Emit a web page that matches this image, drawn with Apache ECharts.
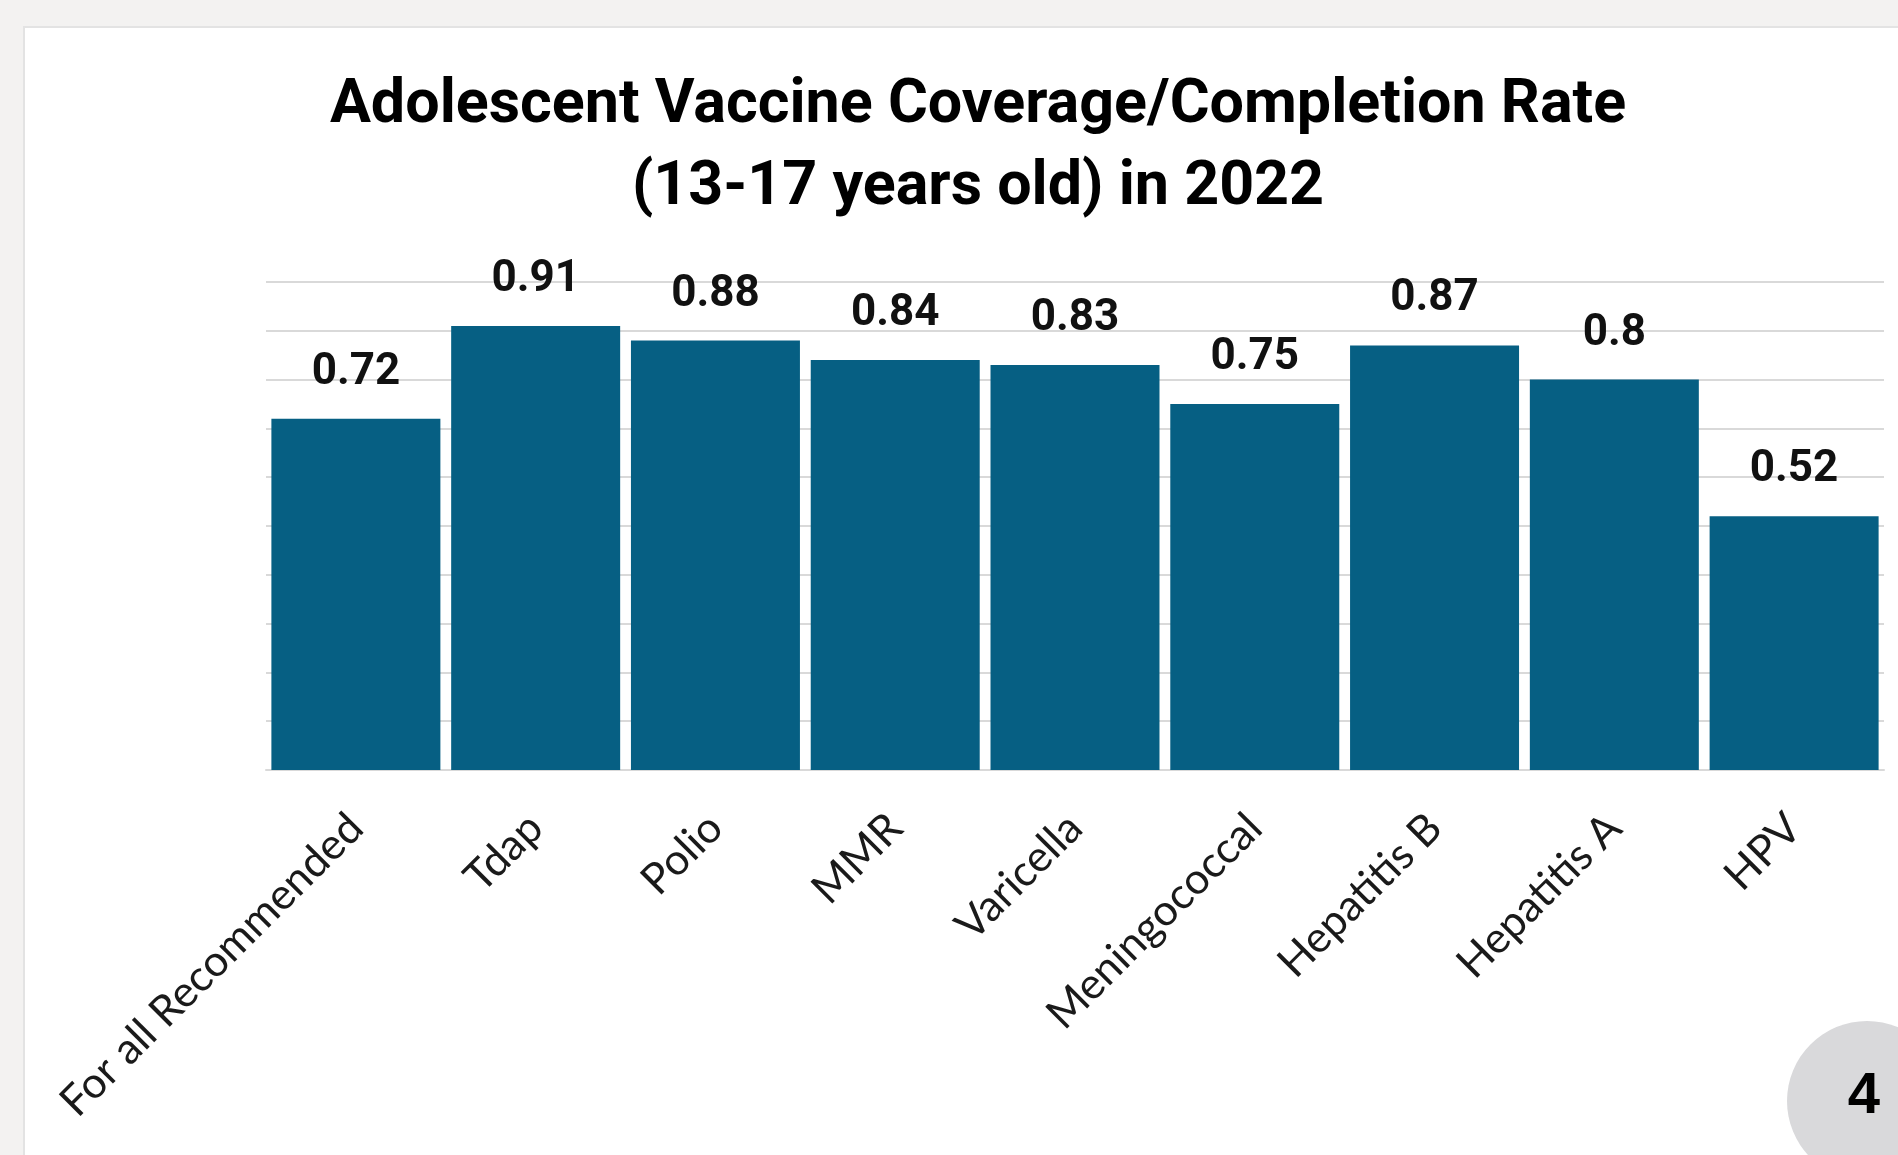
<!DOCTYPE html>
<html>
<head>
<meta charset="utf-8">
<title>Adolescent Vaccine Coverage</title>
<script src="https://cdn.jsdelivr.net/npm/echarts@6/dist/echarts.min.js"></script>
<style>
  html, body { margin: 0; padding: 0; background: #f3f2f1; }
  #chart { width: 1898px; height: 1155px; }
</style>
</head>
<body>
<div id="chart"></div>
<script>
// data
var categories = ["For all Recommended", "Tdap", "Polio", "MMR", "Varicella",
  "Meningococcal", "Hepatitis B", "Hepatitis A", "HPV"];
var coverage = [0.72, 0.91, 0.88, 0.84, 0.83, 0.75, 0.87, 0.8, 0.52];
var titleLines = ["Adolescent Vaccine Coverage/Completion Rate", "(13-17 years old) in 2022"];
var pageNumber = "4";

var chart = echarts.init(document.getElementById("chart"));

var barColor = "#065f83";
var gridColor = "#d9d9d9";

var option = {
  backgroundColor: "#f3f2f1",
  animation: false,
  graphic: [
    {
      // white card behind the chart
      type: "rect",
      z: -10,
      shape: { x: 24, y: 27, width: 1920, height: 1200 },
      style: { fill: "#ffffff", stroke: "#e3e3e3", lineWidth: 2 }
    },
    {
      // two line title, centred a bit right of the page middle
      type: "text",
      x: 978,
      y: 148,
      style: {
        text: titleLines.join("\n"),
        fill: "#000",
        font: "bold 61px Roboto, sans-serif",
        lineHeight: 82,
        textAlign: "center",
        textVerticalAlign: "middle"
      }
    },
    {
      type: "circle",
      z: 5,
      shape: { cx: 1867, cy: 1101, r: 80 },
      style: { fill: "#d9d9db" }
    },
    {
      type: "text",
      z: 6,
      x: 1864,
      y: 1097,
      style: {
        text: pageNumber,
        fill: "#000",
        font: "bold 58px Arial, 'Liberation Sans', sans-serif",
        textAlign: "center",
        textVerticalAlign: "middle"
      }
    }
  ],
  grid: {
    left: 266,
    right: 14,
    top: 282,
    bottom: 385
  },
  xAxis: {
    type: "category",
    data: categories,
    axisTick: { show: false },
    axisLine: { lineStyle: { color: gridColor, width: 2 } },
    axisLabel: {
      rotate: 45,
      interval: 0,
      margin: 51,
      padding: [30, 0, 0, 0],
      fontFamily: "Lato, 'Open Sans', sans-serif",
      fontSize: 43,
      color: "#1a1a1a"
    }
  },
  yAxis: {
    type: "value",
    min: 0,
    max: 1,
    interval: 0.1,
    axisLabel: { show: false },
    axisLine: { show: false },
    axisTick: { show: false },
    splitLine: { lineStyle: { color: gridColor, width: 2 } }
  },
  series: [
    {
      type: "bar",
      data: coverage,
      barCategoryGap: "6%",
      itemStyle: { color: barColor },
      label: {
        show: true,
        position: "top",
        distance: 24,
        fontFamily: "Roboto, sans-serif",
        fontWeight: "bold",
        fontSize: 44,
        color: "#111"
      }
    }
  ]
};

chart.setOption(option);
</script>
</body>
</html>
